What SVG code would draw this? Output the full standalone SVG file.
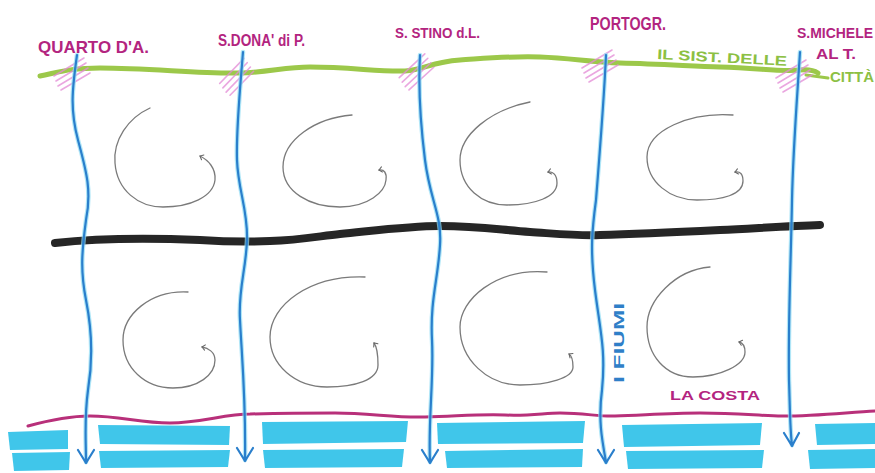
<svg xmlns="http://www.w3.org/2000/svg" width="875" height="473" viewBox="0 0 875 473">
<style>
.lbl{font-family:"Liberation Sans","DejaVu Sans",sans-serif;font-weight:bold;fill:#b3247f}
.grn{font-family:"Liberation Sans","DejaVu Sans",sans-serif;font-weight:bold;fill:#8cc043}
.blu{font-family:"Liberation Sans","DejaVu Sans",sans-serif;font-weight:bold;fill:#2f7fc8}
.sea{fill:#40c6ea}
.halo{fill:none;stroke:#8fdcf3;stroke-width:4.5;stroke-linecap:round;opacity:0.7}
.river{fill:none;stroke:#2a7fcc;stroke-width:2.2;stroke-linecap:round;stroke-linejoin:round}
.spiral{fill:none;stroke:#7a7a7a;stroke-width:1.3;stroke-linecap:round}
.hatch{fill:none;stroke:#e48ad6;stroke-width:1.6;stroke-linecap:round;opacity:0.75}
</style>
<defs>
<marker id="sp" viewBox="-6 -6 12 12" markerWidth="9" markerHeight="9" markerUnits="userSpaceOnUse" orient="auto">
<path d="M-4,-3.5 L0,0 L-4,3.5" fill="none" stroke="#666" stroke-width="1.4" stroke-linecap="round"/>
</marker>
<g id="hatchmark">
<path d="M-18,4 L12,-14 M-16,9 L14,-9 M-14,14 L16,-4 M-11,18 L18,1"/>
</g>
</defs>
<rect width="875" height="473" fill="#ffffff"/>

<g id="sea">
<polygon class="sea" points="8,432 68,430 68,449 10,450"/>
<polygon class="sea" points="98,425 230,426 229,445 100,444"/>
<polygon class="sea" points="262,422 408,421 406,442 263,444"/>
<polygon class="sea" points="437,423 585,421 583,443 438,444"/>
<polygon class="sea" points="622,425 762,423 760,445 624,447"/>
<polygon class="sea" points="815,424 875,423 875,444 817,445"/>
<polygon class="sea" points="12,453 70,452 69,470 14,471"/>
<polygon class="sea" points="99,451 230,450 228,467 101,468"/>
<polygon class="sea" points="263,450 404,449 402,467 265,468"/>
<polygon class="sea" points="445,451 583,449 582,467 447,468"/>
<polygon class="sea" points="626,451 764,450 762,468 628,469"/>
<polygon class="sea" points="808,450 875,449 875,468 810,469"/>
</g>

<g id="coast">
<path d="M28,426 C50,420 70,416 90,416 C120,416 140,423 170,423 C200,423 225,414 250,414 C290,413 310,413 335,413 C370,413 395,418 425,417 C460,416 480,414 505,415 C530,416 545,413 560,413 C585,413 600,417 615,416 C645,415 670,413 700,413 C740,413 760,416 782,416 C820,416 850,412 875,411" fill="none" stroke="#b8307a" stroke-width="3" stroke-linecap="round"/>
</g>

<g id="divider">
<path d="M55,243 C100,238 150,238 200,240 C230,242 250,242 270,241 C300,240 320,236 340,234 C380,230 410,226 440,226 C480,226 500,230 530,232 C560,234 580,236 600,235 C640,234 680,232 720,230 C760,228 790,226 820,225" fill="none" stroke="#262626" stroke-width="8" stroke-linecap="round"/>
</g>

<g id="cities-line">
<path d="M40,76 C60,72 70,68 100,68 C150,68 200,74 240,73 C270,72 285,67 310,67 C350,67 380,72 405,71 C425,70 430,62 460,60 C490,58 510,56 540,57 C570,58 590,62 620,63 C660,64 690,66 720,67 C760,68 780,72 800,70 C810,69 815,71 818,73" fill="none" stroke="#9cc84a" stroke-width="5" stroke-linecap="round"/>
<path d="M806,75 L828,78" fill="none" stroke="#9cc84a" stroke-width="3" stroke-linecap="round"/>
</g>

<g id="crossings" class="hatch">
<use href="#hatchmark" transform="translate(72,72)"/>
<use href="#hatchmark" transform="translate(236,75) rotate(-15)"/>
<use href="#hatchmark" transform="translate(416,70) rotate(-12)"/>
<use href="#hatchmark" transform="translate(600,64)"/>
<use href="#hatchmark" transform="translate(794,74)"/>
</g>

<g id="rivers">
<path class="halo" d="M77,55 C72,90 70,110 78,140 C86,170 92,190 86,220 C82,250 80,270 86,300 C92,330 93,360 88,390 C84,420 86,440 86,462"/>
<path class="halo" d="M243,52 C240,90 236,130 237,160 C238,190 248,210 247,240 C246,270 238,290 240,320 C242,360 246,400 245,460"/>
<path class="halo" d="M420,55 C418,90 420,120 425,160 C430,200 442,215 440,245 C438,280 430,300 432,340 C434,380 428,420 430,462"/>
<path class="halo" d="M606,55 C604,100 600,150 596,200 C592,230 590,250 595,290 C600,330 606,350 602,390 C598,420 602,440 606,462"/>
<path class="halo" d="M800,52 C797,100 793,150 792,200 C791,260 788,320 789,380 C790,410 790,430 792,445"/>
<path class="river" d="M77,55 C72,90 70,110 78,140 C86,170 92,190 86,220 C82,250 80,270 86,300 C92,330 93,360 88,390 C84,420 86,440 86,462 M78,450 L86,463 L94,450"/>
<path class="river" d="M243,52 C240,90 236,130 237,160 C238,190 248,210 247,240 C246,270 238,290 240,320 C242,360 246,400 245,460 M237,448 L245,461 L253,448"/>
<path class="river" d="M420,55 C418,90 420,120 425,160 C430,200 442,215 440,245 C438,280 430,300 432,340 C434,380 428,420 430,462 M422,450 L430,463 L438,450"/>
<path class="river" d="M606,55 C604,100 600,150 596,200 C592,230 590,250 595,290 C600,330 606,350 602,390 C598,420 602,440 606,462 M598,450 L606,463 L614,450"/>
<path class="river" d="M800,52 C797,100 793,150 792,200 C791,260 788,320 789,380 C790,410 790,430 792,445 M784,433 L792,446 L799,433"/>
</g>

<g id="spirals">
<path class="spiral" marker-end="url(#sp)" d="M150,108 C128,118 113,140 115,163 C117,190 138,207 163,207 C190,207 213,197 215,180 C216,168 208,160 200,156"/>
<path class="spiral" marker-end="url(#sp)" d="M352,115 C315,118 283,140 283,167 C283,192 310,207 340,207 C368,207 385,192 386,180 C387,173 384,169 379,170"/>
<path class="spiral" marker-end="url(#sp)" d="M530,102 C490,110 460,135 460,160 C460,188 482,205 507,205 C535,205 557,197 557,183 C557,175 553,171 548,172"/>
<path class="spiral" marker-end="url(#sp)" d="M733,115 C690,112 647,130 647,157 C647,182 670,200 697,200 C722,200 743,195 743,181 C743,174 740,171 735,172"/>
<path class="spiral" marker-end="url(#sp)" d="M188,292 C150,290 123,315 123,340 C123,368 145,388 173,388 C198,388 215,375 215,360 C215,352 208,348 202,347"/>
<path class="spiral" marker-end="url(#sp)" d="M365,277 C310,275 270,305 270,337 C270,365 295,387 327,387 C355,387 378,380 378,365 C378,355 377,347 374,343"/>
<path class="spiral" marker-end="url(#sp)" d="M547,272 C495,268 460,300 460,327 C460,360 488,385 520,385 C548,385 573,378 573,367 C573,360 572,356 569,354"/>
<path class="spiral" marker-end="url(#sp)" d="M710,267 C675,270 647,300 647,327 C647,355 665,377 693,377 C720,377 745,365 745,352 C745,346 743,343 739,342"/>
</g>

<g id="labels">
<text class="lbl" x="38" y="53" font-size="17" textLength="111" lengthAdjust="spacingAndGlyphs">QUARTO D'A.</text>
<text class="lbl" x="218" y="46" font-size="16" textLength="87" lengthAdjust="spacingAndGlyphs">S.DONA' di P.</text>
<text class="lbl" x="395" y="38" font-size="15" textLength="85" lengthAdjust="spacingAndGlyphs">S. STINO d.L.</text>
<text class="lbl" x="590" y="30" font-size="18" textLength="76" lengthAdjust="spacingAndGlyphs">PORTOGR.</text>
<text class="lbl" x="797" y="38" font-size="14" textLength="76" lengthAdjust="spacingAndGlyphs">S.MICHELE</text>
<text class="lbl" x="816" y="59" font-size="14" textLength="40" lengthAdjust="spacingAndGlyphs">AL T.</text>
<text class="grn" x="657" y="59" font-size="14" textLength="130" lengthAdjust="spacingAndGlyphs" transform="rotate(3 657 59)">IL SIST. DELLE</text>
<text class="grn" x="830" y="82" font-size="14" textLength="44" lengthAdjust="spacingAndGlyphs">CITTÀ</text>
<text class="blu" x="0" y="0" font-size="14" textLength="80" lengthAdjust="spacingAndGlyphs" transform="translate(624,383) rotate(-90)">I FIUMI</text>
<text class="lbl" x="670" y="400" font-size="13" textLength="90" lengthAdjust="spacingAndGlyphs">LA COSTA</text>
</g>
</svg>
